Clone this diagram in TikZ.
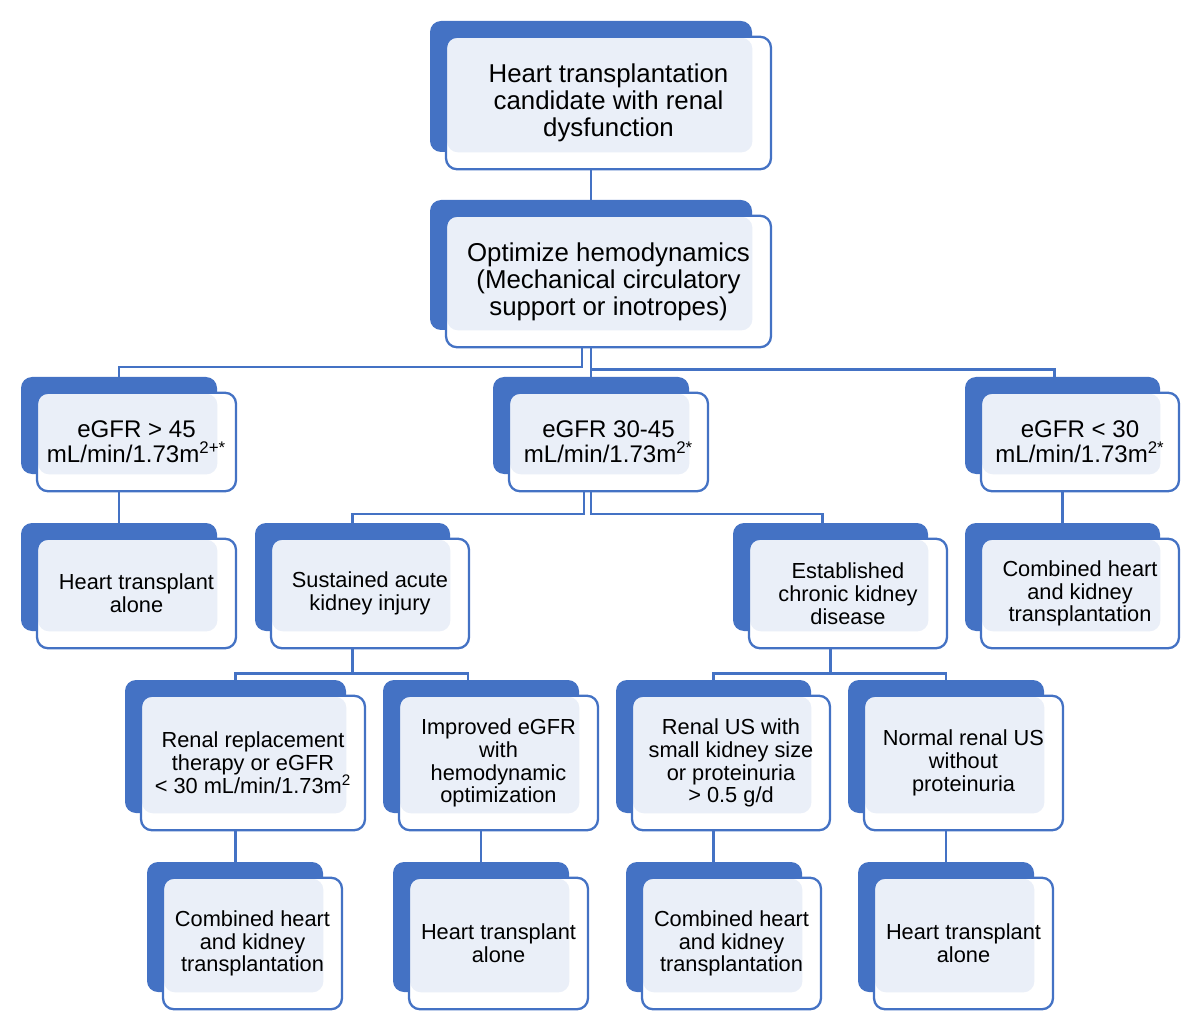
\documentclass[tikz,border=0pt]{standalone}
\usepackage{fontspec}
\setmainfont{Liberation Sans}
\definecolor{boxblue}{HTML}{4472C4}
\definecolor{panelblue}{HTML}{EAEFF8}

\begin{document}
\begin{tikzpicture}[x=0.02cm,y=-0.02cm,
    backbox/.style={fill=boxblue, rounded corners=0.22cm, inner sep=0pt},
    frontbox/.style={draw=boxblue, fill=white, line width=1.3pt, rounded corners=0.22cm,
      inner sep=0pt, align=center},
    bigtext/.style={font=\fontsize{14.7}{15.3}\selectfont},
    midtext/.style={font=\fontsize{13.7}{14.2}\selectfont},
    smalltext/.style={font=\fontsize{12.4}{13}\selectfont},
    link/.style={draw=boxblue, line width=1.3pt}]
  \useasboundingbox (0,0) rectangle (1200,1030);
  \foreach \n/\xa/\ya/\xb/\yb/\f/\t in {
      top/430/21/752/152/bigtext/{Heart transplantation\\candidate with renal\\dysfunction},
      opt/430/200/752/330/bigtext/{Optimize hemodynamics\\(Mechanical circulatory\\support or inotropes)},
      g45/21/377/217/474/midtext/{eGFR > 45\\mL/min/1.73m\textsuperscript{2+*}},
      g3045/493/377/689/474/midtext/{eGFR 30-45\\mL/min/1.73m\textsuperscript{2*}},
      g30/965/377/1160/474/midtext/{eGFR < 30\\mL/min/1.73m\textsuperscript{2*}},
      hta1/21/523/217/631/smalltext/{Heart transplant\\alone},
      aki/255/523/450/631/smalltext/{Sustained acute\\kidney injury},
      ckd/733/523/928/631/smalltext/{Established\\chronic kidney\\disease},
      chk1/965/523/1160/631/smalltext/{Combined heart\\and kidney\\transplantation},
      rrt/125/680/346/813/smalltext/{Renal replacement\\therapy or eGFR\\< 30 mL/min/1.73m\textsuperscript{2}},
      imp/383/680/579/813/smalltext/{Improved eGFR\\with\\hemodynamic\\optimization},
      us/616/680/811/813/smalltext/{Renal US with\\small kidney size\\or proteinuria\\> 0.5 g/d},
      nus/848/680/1044/813/smalltext/{Normal renal US\\without\\proteinuria},
      chk2/147/862/323/992/smalltext/{Combined heart\\and kidney\\transplantation},
      hta2/393/862/569/992/smalltext/{Heart transplant\\alone},
      chk3/626/862/802/992/smalltext/{Combined heart\\and kidney\\transplantation},
      hta3/858/862/1034/992/smalltext/{Heart transplant\\alone}}{
    \node[backbox, minimum width={(\xb-\xa)*0.02cm}, minimum height={(\yb-\ya)*0.02cm}]
      (\n-b) at ({(\xa+\xb)/2},{(\ya+\yb)/2}) {};
    \node[frontbox, \f, minimum width={(\xb-\xa+3)*0.02cm}, minimum height={(\yb-\ya+1.5)*0.02cm},
      path picture={\fill[panelblue, rounded corners=0.22cm]
        ([shift={(0.6pt,-0.6pt)}]path picture bounding box.north west) rectangle (\n-b.south east);}]
      (\n) at ({(\xa+\xb)/2+17.5},{(\ya+\yb)/2+16.5}) {\t};
  }
  % connectors
  \draw[link] (top-b.south |- top.south) -- (opt-b.north);
  \draw[link] ([xshift=-0.18cm]opt-b.south |- opt.south) |- ([yshift=0.2cm]g45-b.north) -- (g45-b.north);
  \draw[link] (opt-b.south |- opt.south) -- (g3045-b.north);
  \draw[link] (opt-b.south |- opt.south) ++(0cm,-0.42cm) -| ([xshift=-0.16cm]g30-b.north);
  \draw[link] (g45-b.south |- g45.south) -- (hta1-b.north);
  \draw[link] (g30-b.south |- g30.south) -- (chk1-b.north);
  \draw[link] ([xshift=-0.14cm]g3045-b.south |- g3045.south) |- ([yshift=0.18cm]aki-b.north) -- (aki-b.north);
  \draw[link] (g3045-b.south |- g3045.south) |- ([xshift=-0.16cm,yshift=0.18cm]ckd-b.north) -- ++(0cm,-0.18cm);
  \draw[link] (aki-b.south |- aki.south) -- ++(0cm,-0.48cm) -| (rrt-b.north);
  \draw[link] (aki-b.south |- aki.south) -- ++(0cm,-0.48cm) -| ([xshift=-0.26cm]imp-b.north);
  \draw[link] (ckd-b.south |- ckd.south) -- ++(0cm,-0.48cm) -| (us-b.north);
  \draw[link] (ckd-b.south |- ckd.south) -- ++(0cm,-0.48cm) -| (nus-b.north);
  \draw[link] (rrt-b.south |- rrt.south) -- (rrt-b.south |- chk2-b.north);
  \draw[link] (imp-b.south |- imp.south) -- (imp-b.south |- hta2-b.north);
  \draw[link] (us-b.south |- us.south) -- (us-b.south |- chk3-b.north);
  \draw[link] (nus-b.south |- nus.south) -- (nus-b.south |- hta3-b.north);
\end{tikzpicture}
\end{document}
